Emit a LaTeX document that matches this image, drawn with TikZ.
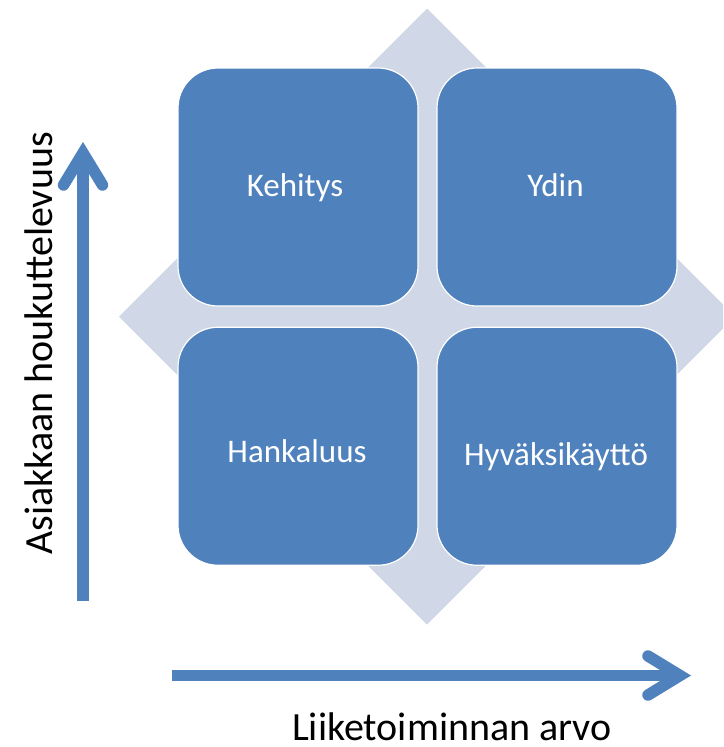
\documentclass[tikz,border=0pt]{standalone}
\usepackage{fontspec}
\setmainfont{Carlito}
\usetikzlibrary{calc}
\definecolor{boxblue}{HTML}{4F81BD}
\definecolor{diagray}{HTML}{D0D8E8}
\begin{document}
\begin{tikzpicture}[x=1pt,y=-1pt,
  quad/.style={draw=white, line width=1.2pt, fill=boxblue, rounded corners=40pt,
    minimum width=240pt, minimum height=238pt, inner sep=0pt},
  quadtext/.style={text=white, font=\fontsize{33}{40}\selectfont, anchor=base, inner sep=0pt},
  axistext/.style={text=black, font=\fontsize{40}{48}\selectfont, anchor=base, inner sep=0pt, text depth=0pt},
  axisline/.style={draw=boxblue, line width=11.5pt},
  axishead/.style={draw=boxblue, line width=11.5pt, line cap=round, line join=miter}]
\useasboundingbox (0,0) rectangle (723,747);
\clip (0,0) rectangle (723,747);
% background diamond
\fill[diagray] (427,8.5) -- (735,316.5) -- (427,624.5) -- (119,316.5) -- cycle;
% quadrants
\node[quad] (tl) at (298,187) {};
\node[quad] (tr) at (557,187) {};
\node[quad] (bl) at (298,446.25) {};
\node[quad] (br) at (557,446.25) {};
\node[quadtext] (tltext) at (295,196) {Kehitys};
\node[quadtext] (trtext) at (555.5,196) {Ydin};
\node[quadtext] (bltext) at (297,462) {Hankaluus};
\node[quadtext] (brtext) at (556,465) {Hyväksikäyttö};
% vertical axis
\coordinate (ybot) at (83,601);
\coordinate (ytip) at (83,153);
\draw[axisline] (ybot) -- (ytip);
\draw[axishead] ($(ytip)+(-19.5,32)$) -- (ytip) -- ($(ytip)+(19.5,32)$);
% horizontal axis
\coordinate (xbeg) at (172,675.5);
\coordinate (xtip) at (680,675.5);
\draw[axisline] (xbeg) -- (xtip);
\draw[axishead] ($(xtip)+(-32,-19.5)$) -- (xtip) -- ($(xtip)+(-32,19.5)$);
% axis labels
\node[axistext] (xlabel) at (452,740) {Liiketoiminnan arvo};
\node[axistext, rotate=90] (ylabel) at (52,343.5) {Asiakkaan houkuttelevuus};
\end{tikzpicture}
\end{document}
